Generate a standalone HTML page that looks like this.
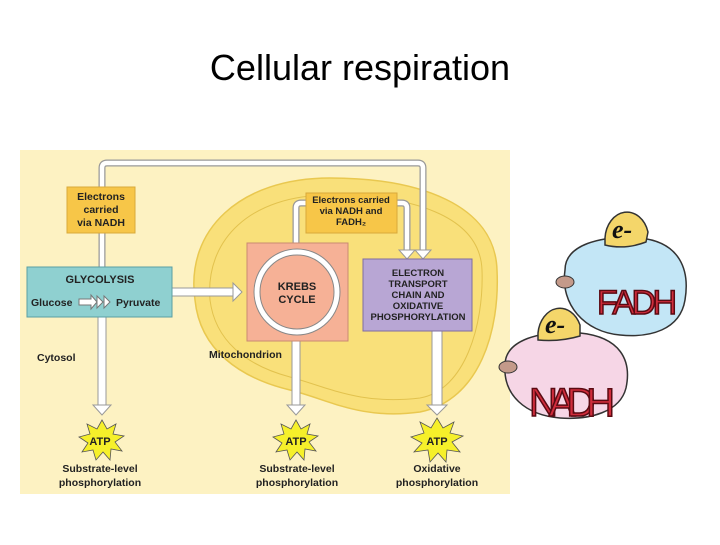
<!DOCTYPE html>
<html><head><meta charset="utf-8"><style>
body{margin:0;width:720px;height:540px;background:#fff;overflow:hidden;font-family:"Liberation Sans",Arial,sans-serif}
</style></head><body>
<svg width="720" height="540" viewBox="0 0 720 540" xmlns="http://www.w3.org/2000/svg" font-family="Liberation Sans, Arial, sans-serif">
<text x="360" y="80" font-size="36" text-anchor="middle" fill="#000">Cellular respiration</text>
<rect x="20" y="150" width="490" height="344" fill="#fdf2c2"/>
<!-- mitochondrion -->
<path d="M195,300 C185,230 240,178 330,178 C420,178 495,205 497,270 C500,330 480,400 420,412 C360,420 330,400 290,390 C240,378 200,350 195,300 Z" fill="#f9e07a" stroke="#e9c850" stroke-width="1.5"/>
<path d="M210,300 C205,240 250,195 330,195 C410,195 480,215 482,270 C484,325 465,390 420,398 C360,405 330,388 290,377 C245,365 215,340 210,300 Z" fill="none" stroke="#e2c24e" stroke-width="1"/>
<!-- top connector -->
<path d="M102,317 V168 Q102,163 107,163 H418 Q423,163 423,168 V252" fill="none" stroke="#999" stroke-width="7"/>
<path d="M102,317 V168 Q102,163 107,163 H418 Q423,163 423,168 V252" fill="none" stroke="#fff" stroke-width="4.5"/>
<polygon points="415,250 431,250 423,259" fill="#fff" stroke="#999"/>
<!-- krebs loop -->
<path d="M296,243 V208 Q296,203 301,203 H402 Q407,203 407,208 V252" fill="none" stroke="#999" stroke-width="7"/>
<path d="M296,243 V208 Q296,203 301,203 H402 Q407,203 407,208 V252" fill="none" stroke="#fff" stroke-width="4.5"/>
<polygon points="399,250 415,250 407,259" fill="#fff" stroke="#999"/>
<!-- down arrows -->
<g stroke="#999" fill="#fff">
<rect x="98" y="317" width="8" height="90"/><polygon points="93,405 111,405 102,415"/>
<rect x="292" y="341" width="8" height="66"/><polygon points="287,405 305,405 296,415"/>
<rect x="432" y="331" width="10" height="76"/><polygon points="427,405 447,405 437,415"/>
<rect x="172" y="288" width="62" height="8"/><polygon points="233,283 233,301 242,292"/>
</g>
<!-- boxes -->
<rect x="67" y="187" width="68" height="46" fill="#f7c648" stroke="#d9a93a"/>
<text font-size="10.5" font-weight="bold" text-anchor="middle" fill="#222"><tspan x="101" y="200">Electrons</tspan><tspan x="101" y="213">carried</tspan><tspan x="101" y="226">via NADH</tspan></text>
<rect x="306" y="193" width="91" height="40" fill="#f7c648" stroke="#d9a93a"/>
<text font-size="9.5" font-weight="bold" text-anchor="middle" fill="#222"><tspan x="351" y="203">Electrons carried</tspan><tspan x="351" y="214">via NADH and</tspan><tspan x="351" y="225">FADH₂</tspan></text>
<rect x="27" y="267" width="145" height="50" fill="#8fd0d0" stroke="#5a9fa3"/>
<text x="100" y="283" font-size="11" font-weight="bold" text-anchor="middle" fill="#222">GLYCOLYSIS</text>
<text x="31" y="306" font-size="10.5" font-weight="bold" fill="#222">Glucose</text>
<text x="116" y="306" font-size="10.5" font-weight="bold" fill="#222">Pyruvate</text>
<polygon points="79,299 91,299 91,295 97,302 91,309 91,305 79,305" fill="#fff" stroke="#777"/>
<polygon points="97,296 103,302 97,308" fill="#fff" stroke="#777"/>
<polygon points="104,296 110,302 104,308" fill="#fff" stroke="#777"/>
<rect x="247" y="243" width="101" height="98" fill="#f6b196" stroke="#c98a72"/>
<circle cx="297" cy="292" r="40" fill="none" stroke="#888" stroke-width="7"/>
<circle cx="297" cy="292" r="40" fill="none" stroke="#fff" stroke-width="5"/>
<text font-size="11" font-weight="bold" text-anchor="middle" fill="#222"><tspan x="297" y="290">KREBS</tspan><tspan x="297" y="303">CYCLE</tspan></text>
<rect x="363" y="259" width="109" height="72" fill="#b8a6d4" stroke="#7e6da1"/>
<text font-size="9.5" font-weight="bold" text-anchor="middle" fill="#222"><tspan x="418" y="276">ELECTRON</tspan><tspan x="418" y="287">TRANSPORT</tspan><tspan x="418" y="298">CHAIN AND</tspan><tspan x="418" y="309">OXIDATIVE</tspan><tspan x="418" y="320">PHOSPHORYLATION</tspan></text>
<text x="37" y="361" font-size="10.5" font-weight="bold" fill="#222">Cytosol</text>
<text x="209" y="358" font-size="10.5" font-weight="bold" fill="#222">Mitochondrion</text>
<!-- ATP stars -->
<g fill="#f6f02a" stroke="#555" stroke-width="0.8">
<polygon points="102,420 107,429 116,424 113,434 124,436 115,442 122,451 111,449 110,460 103,452 96,460 93,450 82,452 88,443 79,437 90,434 87,424 97,429"/>
<polygon points="296,420 301,429 310,424 307,434 318,436 309,442 316,451 305,449 304,460 297,452 290,460 287,450 276,452 282,443 273,437 284,434 281,424 291,429"/>
<polygon points="437,418 443,428 454,422 450,433 463,436 452,442 460,452 447,450 446,462 438,453 430,462 428,450 414,452 422,443 411,437 424,433 420,422 431,428"/>
</g>
<text font-size="11" font-weight="bold" text-anchor="middle" fill="#222"><tspan x="100" y="445">ATP</tspan><tspan x="296" y="445">ATP</tspan><tspan x="437" y="445">ATP</tspan></text>
<text font-size="10.5" font-weight="bold" text-anchor="middle" fill="#222"><tspan x="100" y="472">Substrate-level</tspan><tspan x="100" y="486">phosphorylation</tspan><tspan x="297" y="472">Substrate-level</tspan><tspan x="297" y="486">phosphorylation</tspan><tspan x="437" y="472">Oxidative</tspan><tspan x="437" y="486">phosphorylation</tspan></text>
<!-- blue pig -->
<path d="M565,270 C565,245 600,235 640,238 C680,242 690,270 685,300 C680,330 650,338 620,335 C585,332 560,305 565,270 Z" fill="#c3e6f6" stroke="#333" stroke-width="1.5"/>
<ellipse cx="565" cy="282" rx="9" ry="6" fill="#c49a8a" stroke="#333"/>
<path d="M605,238 A22,28 0 0 1 648,232 L646,242 Q625,250 605,245 Z" fill="#f4d66a" stroke="#333" stroke-width="1.5"/>
<text x="612" y="238" font-size="26" font-style="italic" font-weight="bold" font-family="Liberation Serif, serif" fill="#111">e-</text>
<text x="597" y="314" font-size="34" fill="#d02d3c" stroke="#5a0a12" stroke-width="1.5" textLength="80">FADH</text>
<!-- pink pig -->
<path d="M505,365 C505,340 540,330 580,333 C620,337 632,360 626,388 C620,412 590,420 560,418 C525,415 503,395 505,365 Z" fill="#f6d6e6" stroke="#333" stroke-width="1.5"/>
<ellipse cx="508" cy="367" rx="9" ry="6" fill="#c49a8a" stroke="#333"/>
<path d="M538,333 A22,28 0 0 1 580,325 L580,336 Q560,342 538,340 Z" fill="#f4d66a" stroke="#333" stroke-width="1.5"/>
<text x="545" y="333" font-size="26" font-style="italic" font-weight="bold" font-family="Liberation Serif, serif" fill="#111">e-</text>
<text x="529" y="416" font-size="40" fill="#d02d3c" stroke="#5a0a12" stroke-width="1.5" textLength="86">NADH</text>
</svg>
</body></html>
